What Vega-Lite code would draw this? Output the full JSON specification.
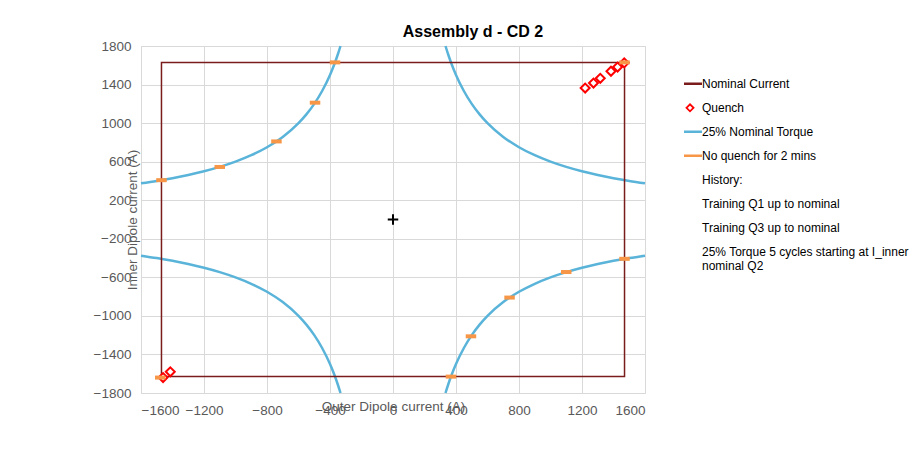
{
  "$schema": "https://vega.github.io/schema/vega-lite/v6.json",
  "width": 504,
  "height": 347,
  "autosize": "none",
  "padding": {"left": 141, "top": 46, "right": 277, "bottom": 60},
  "background": "white",
  "title": {
    "text": "Assembly d - CD 2",
    "font": "Liberation Sans",
    "fontSize": 16,
    "fontWeight": "bold",
    "color": "#000000",
    "anchor": "middle",
    "frame": "group",
    "dx": 80,
    "baseline": "alphabetic",
    "offset": -14
  },
  "config": {
    "view": {"stroke": "#d9d9d9"},
    "axis": {
      "labelFont": "Liberation Sans",
      "labelFontSize": 13.5,
      "labelColor": "#595959",
      "titleFont": "Liberation Sans",
      "titleFontSize": 13.5,
      "titleFontWeight": "normal",
      "titleColor": "#595959",
      "gridColor": "#d9d9d9",
      "ticks": false,
      "domain": false,
      "labelPadding": 10,
      "format": "d"
    },
    "legend": {
      "labelFont": "Liberation Sans",
      "labelFontSize": 12,
      "labelColor": "#000000",
      "labelLimit": 400,
      "symbolSize": 576,
      "symbolType": "stroke",
      "symbolStrokeWidth": 2.5,
      "labelOffset": 6,
      "padding": 0,
      "rowPadding": 0,
      "clipHeight": 23.6
    }
  },
  "datasets": {
    "rect": [
      {"outer": -1470, "inner": -1630, "ord": 0, "series": "Nominal Current"},
      {"outer": -1470, "inner": 1630, "ord": 1, "series": "Nominal Current"},
      {"outer": 1470, "inner": 1630, "ord": 2, "series": "Nominal Current"},
      {"outer": 1470, "inner": -1630, "ord": 3, "series": "Nominal Current"},
      {"outer": -1470, "inner": -1630, "ord": 4, "series": "Nominal Current"}
    ],
    "torque": [
      {"branch": "UR", "outer": 333.3, "inner": 1800},
      {"branch": "UR", "outer": 350, "inner": 1714.3},
      {"branch": "UR", "outer": 370, "inner": 1621.6},
      {"branch": "UR", "outer": 400, "inner": 1500},
      {"branch": "UR", "outer": 450, "inner": 1333.3},
      {"branch": "UR", "outer": 500, "inner": 1200},
      {"branch": "UR", "outer": 550, "inner": 1090.9},
      {"branch": "UR", "outer": 600, "inner": 1000},
      {"branch": "UR", "outer": 700, "inner": 857.1},
      {"branch": "UR", "outer": 800, "inner": 750},
      {"branch": "UR", "outer": 900, "inner": 666.7},
      {"branch": "UR", "outer": 1000, "inner": 600},
      {"branch": "UR", "outer": 1100, "inner": 545.5},
      {"branch": "UR", "outer": 1200, "inner": 500},
      {"branch": "UR", "outer": 1300, "inner": 461.5},
      {"branch": "UR", "outer": 1400, "inner": 428.6},
      {"branch": "UR", "outer": 1500, "inner": 400},
      {"branch": "UR", "outer": 1600, "inner": 375},
      {"branch": "UL", "outer": -333.3, "inner": 1800},
      {"branch": "UL", "outer": -350, "inner": 1714.3},
      {"branch": "UL", "outer": -370, "inner": 1621.6},
      {"branch": "UL", "outer": -400, "inner": 1500},
      {"branch": "UL", "outer": -450, "inner": 1333.3},
      {"branch": "UL", "outer": -500, "inner": 1200},
      {"branch": "UL", "outer": -550, "inner": 1090.9},
      {"branch": "UL", "outer": -600, "inner": 1000},
      {"branch": "UL", "outer": -700, "inner": 857.1},
      {"branch": "UL", "outer": -800, "inner": 750},
      {"branch": "UL", "outer": -900, "inner": 666.7},
      {"branch": "UL", "outer": -1000, "inner": 600},
      {"branch": "UL", "outer": -1100, "inner": 545.5},
      {"branch": "UL", "outer": -1200, "inner": 500},
      {"branch": "UL", "outer": -1300, "inner": 461.5},
      {"branch": "UL", "outer": -1400, "inner": 428.6},
      {"branch": "UL", "outer": -1500, "inner": 400},
      {"branch": "UL", "outer": -1600, "inner": 375},
      {"branch": "LL", "outer": -333.3, "inner": -1800},
      {"branch": "LL", "outer": -350, "inner": -1714.3},
      {"branch": "LL", "outer": -370, "inner": -1621.6},
      {"branch": "LL", "outer": -400, "inner": -1500},
      {"branch": "LL", "outer": -450, "inner": -1333.3},
      {"branch": "LL", "outer": -500, "inner": -1200},
      {"branch": "LL", "outer": -550, "inner": -1090.9},
      {"branch": "LL", "outer": -600, "inner": -1000},
      {"branch": "LL", "outer": -700, "inner": -857.1},
      {"branch": "LL", "outer": -800, "inner": -750},
      {"branch": "LL", "outer": -900, "inner": -666.7},
      {"branch": "LL", "outer": -1000, "inner": -600},
      {"branch": "LL", "outer": -1100, "inner": -545.5},
      {"branch": "LL", "outer": -1200, "inner": -500},
      {"branch": "LL", "outer": -1300, "inner": -461.5},
      {"branch": "LL", "outer": -1400, "inner": -428.6},
      {"branch": "LL", "outer": -1500, "inner": -400},
      {"branch": "LL", "outer": -1600, "inner": -375},
      {"branch": "LR", "outer": 333.3, "inner": -1800},
      {"branch": "LR", "outer": 350, "inner": -1714.3},
      {"branch": "LR", "outer": 370, "inner": -1621.6},
      {"branch": "LR", "outer": 400, "inner": -1500},
      {"branch": "LR", "outer": 450, "inner": -1333.3},
      {"branch": "LR", "outer": 500, "inner": -1200},
      {"branch": "LR", "outer": 550, "inner": -1090.9},
      {"branch": "LR", "outer": 600, "inner": -1000},
      {"branch": "LR", "outer": 700, "inner": -857.1},
      {"branch": "LR", "outer": 800, "inner": -750},
      {"branch": "LR", "outer": 900, "inner": -666.7},
      {"branch": "LR", "outer": 1000, "inner": -600},
      {"branch": "LR", "outer": 1100, "inner": -545.5},
      {"branch": "LR", "outer": 1200, "inner": -500},
      {"branch": "LR", "outer": 1300, "inner": -461.5},
      {"branch": "LR", "outer": 1400, "inner": -428.6},
      {"branch": "LR", "outer": 1500, "inner": -400},
      {"branch": "LR", "outer": 1600, "inner": -375}
    ],
    "quench": [
      {"outer": 1220, "inner": 1364},
      {"outer": 1273, "inner": 1416},
      {"outer": 1316, "inner": 1465},
      {"outer": 1384, "inner": 1538},
      {"outer": 1426, "inner": 1582},
      {"outer": 1468, "inner": 1625},
      {"outer": -1414, "inner": -1580},
      {"outer": -1460, "inner": -1640}
    ],
    "noquench": [
      {"outer": -1470, "inner": 408},
      {"outer": -1100, "inner": 545},
      {"outer": -740, "inner": 810},
      {"outer": -495, "inner": 1212},
      {"outer": -368, "inner": 1630},
      {"outer": 1470, "inner": -408},
      {"outer": 1100, "inner": -545},
      {"outer": 740, "inner": -810},
      {"outer": 495, "inner": -1212},
      {"outer": 368, "inner": -1630},
      {"outer": 1470, "inner": 1630},
      {"outer": -1478, "inner": -1640}
    ],
    "origin": [
      {"outer": 0, "inner": 0}
    ]
  },
  "encoding": {
    "x": {
      "field": "outer",
      "type": "quantitative",
      "scale": {"domain": [-1600, 1600], "nice": false, "zero": false},
      "axis": {
        "title": "Outer Dipole current (A)",
        "values": [-1600, -1200, -800, -400, 0, 400, 800, 1200, 1600],
        "titleX": 252,
        "titleY": 17,
        "titleBaseline": "alphabetic"
      }
    },
    "y": {
      "field": "inner",
      "type": "quantitative",
      "scale": {"domain": [-1800, 1800], "nice": false, "zero": false},
      "axis": {
        "title": "Inner Dipole current (A)",
        "values": [-1800, -1400, -1000, -600, -200, 200, 600, 1000, 1400, 1800],
        "titleX": -5,
        "titleY": 173.5,
        "titleAngle": -90,
        "titleAlign": "center",
        "titleBaseline": "alphabetic"
      }
    }
  },
  "layer": [
    {
      "data": {"name": "torque"},
      "mark": {"type": "line", "strokeWidth": 2.5, "interpolate": "monotone"},
      "encoding": {
        "detail": {"field": "branch"},
        "color": {"datum": "25% Nominal Torque"}
      }
    },
    {
      "data": {"name": "rect"},
      "mark": {"type": "line", "strokeWidth": 1.5},
      "encoding": {
        "order": {"field": "ord"},
        "color": {
          "field": "series",
          "type": "nominal",
          "scale": {
            "domain": ["Nominal Current", "Quench", "25% Nominal Torque", "No quench for 2 mins", "History:", "Training Q1 up to nominal", "Training Q3 up to nominal", "25% Torque 5 cycles starting at I_inner nominal Q2"],
            "range": ["#7b1c1c", "#ff0000", "#5ab4d9", "#f79646", "transparent", "transparent", "transparent", "transparent"]
          },
          "legend": {
            "title": null,
            "orient": "none",
            "legendX": 543,
            "legendY": 26,
            "labelExpr": "datum.label === '25% Torque 5 cycles starting at I_inner nominal Q2' ? ['25% Torque 5 cycles starting at I_inner', 'nominal Q2'] : datum.label",
            "encode": {
              "symbols": {
                "update": {
                  "shape": {"signal": "datum.value === 'Quench' ? 'diamond' : 'stroke'"},
                  "size": {"signal": "datum.value === 'Quench' ? 50 : 576"},
                  "fill": {"signal": "datum.value === 'Quench' ? '#ffffff' : 'transparent'"},
                  "stroke": {"scale": "color", "field": "value"},
                  "strokeWidth": {"signal": "datum.value === 'Quench' ? 1.8 : 2.5"}
                }
              }
            }
          }
        }
      }
    },
    {
      "data": {"name": "quench"},
      "mark": {"type": "point", "shape": "diamond", "filled": false, "fill": "#ffffff", "size": 80, "strokeWidth": 2, "opacity": 1},
      "encoding": {
        "color": {"datum": "Quench"}
      }
    },
    {
      "data": {"name": "noquench"},
      "mark": {"type": "point", "shape": "M-1,0H1", "filled": false, "size": 110, "opacity": 1, "strokeWidth": 4},
      "encoding": {
        "color": {"datum": "No quench for 2 mins"}
      }
    },
    {
      "data": {"name": "origin"},
      "mark": {"type": "point", "shape": "M-1,0H1M0,-1V1", "filled": false, "size": 110, "strokeWidth": 2, "color": "#000000", "opacity": 1}
    }
  ]
}
